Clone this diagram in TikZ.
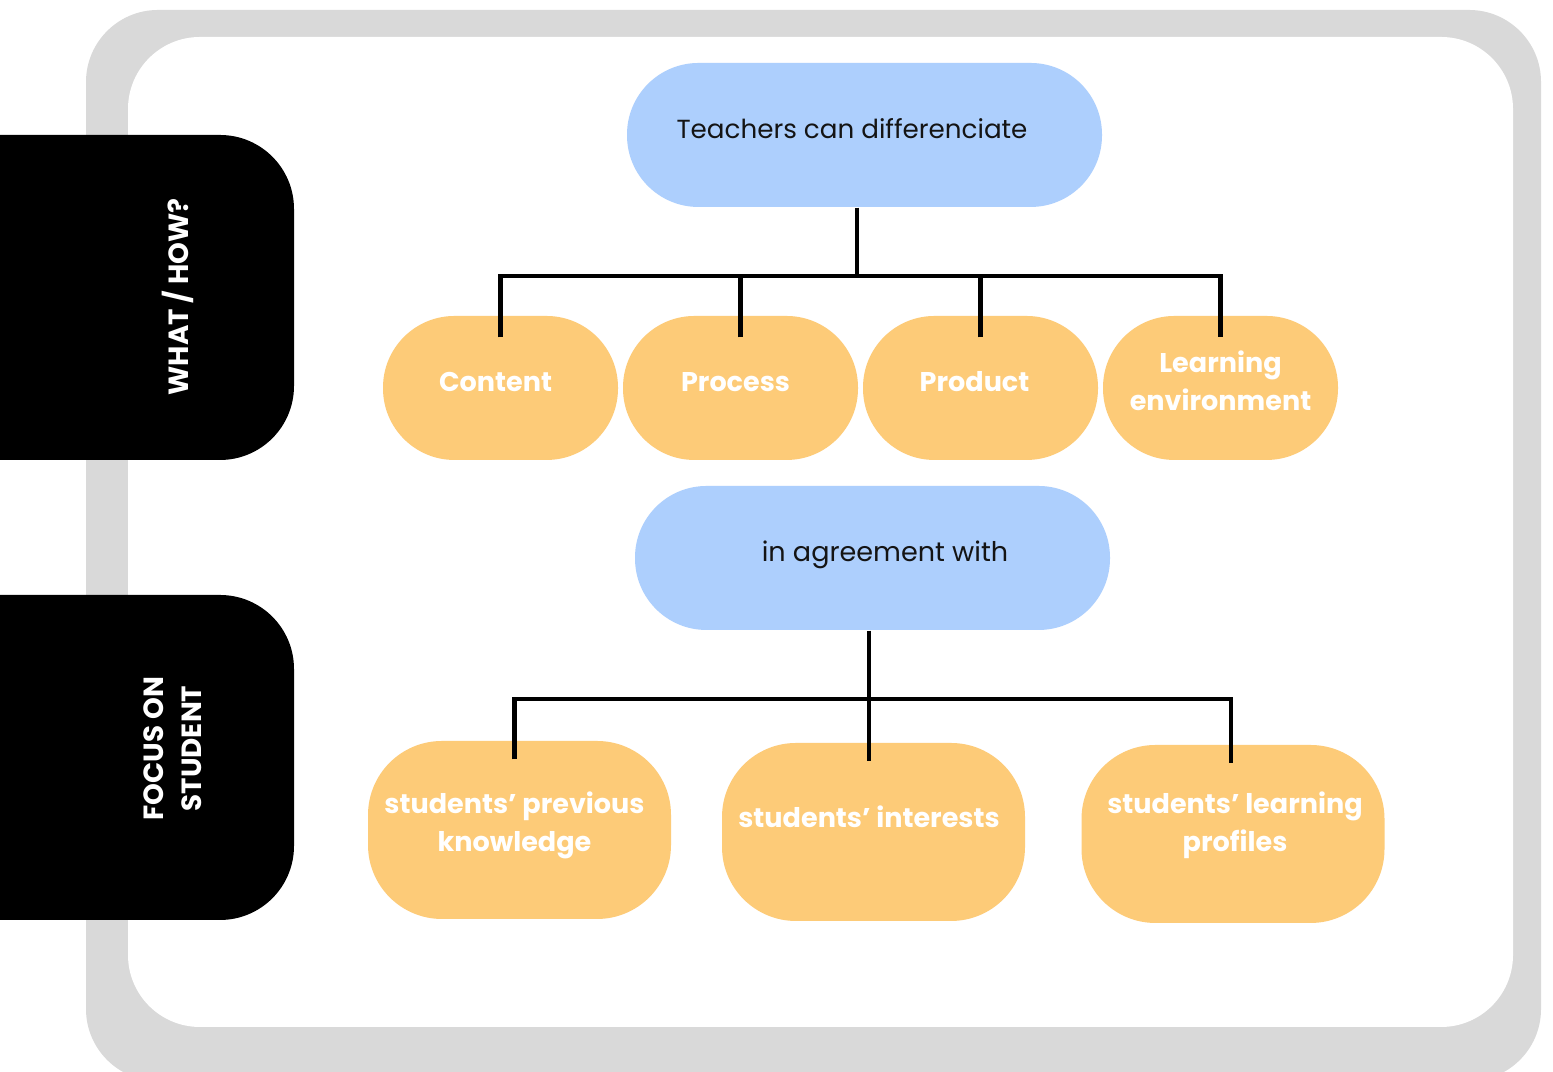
\documentclass[tikz,border=0pt]{standalone}
\usepackage{fontspec}
\setmainfont{Poppins}
\usepackage{xcolor}
\definecolor{skyblue}{HTML}{ADCFFD}
\definecolor{sand}{HTML}{FDCB78}
\definecolor{framegrey}{HTML}{D9D9D9}
\definecolor{ink}{HTML}{141414}
\usepackage{tikz}
\usetikzlibrary{positioning, calc}

\begin{document}
\begin{tikzpicture}[
  font=\fontsize{7.7}{10.8}\selectfont,
  bluebox/.style={rectangle, rounded corners=0.715cm, fill=skyblue,
                  minimum width=4.75cm, minimum height=1.44cm, inner sep=0pt},
  orangebox/.style={rectangle, rounded corners=0.715cm, fill=sand,
                  minimum width=2.35cm, minimum height=1.44cm, inner sep=0pt},
  widebox/.style={orangebox, rounded corners=0.74cm,
                  minimum width=3.03cm, minimum height=1.78cm},
  btext/.style={text=ink, inner sep=0pt},
  otext/.style={text=white, font=\fontsize{7.7}{10.8}\selectfont\bfseries,
                align=center, inner sep=0pt},
  tab/.style={rectangle, rounded corners=0.74cm, fill=black,
              minimum width=3.94cm, minimum height=3.25cm, inner sep=0pt},
  tabtext/.style={text=white, font=\fontsize{7.9}{10.8}\selectfont\bfseries,
                  align=center, rotate=90, inner sep=0pt},
  conn/.style={line width=1.2pt, black},
]
\useasboundingbox (0,0) rectangle (15.53,10.72);
\fill[white] (0,0) rectangle (15.53,10.72);

%% --- cadre ---
\fill[framegrey, rounded corners=0.72cm] (0.86,-0.09) rectangle (15.41,10.62);
\fill[white, rounded corners=0.72cm] (1.28,0.45) rectangle (15.13,10.35);

%% --- onglets ---
\node[tab] (tabwhat) at (0.97,7.745) {};
\node[tab] (tabfocus) at (0.97,3.145) {};
\node[tabtext] (whathow) at (1.78,7.75) {WHAT / HOW?};
\node[tabtext] (focus) at (1.73,3.235) {FOCUS ON\\STUDENT};

%% --- niveau 1 ---
\node[bluebox] (teach) at (8.645,9.37) {};
\node[btext, font=\fontsize{7.45}{10.8}\selectfont] (teachT)
  at ([xshift=-0.125cm, yshift=0.06cm]teach) {Teachers can differenciate};

\node[orangebox] (content) at (5.005,6.84) {};
\node[orangebox] (process) at (7.405,6.84) {};
\node[orangebox] (product) at (9.805,6.84) {};
\node[orangebox] (learn)   at (12.205,6.84) {};
\node[otext] (contentT) at ([xshift=-0.05cm, yshift=0.06cm]content) {Content};
\node[otext] (processT) at ([xshift=-0.05cm, yshift=0.06cm]process) {Process};
\node[otext] (productT) at ([xshift=-0.06cm, yshift=0.06cm]product) {Product};
\node[otext] (learnT)   at ([yshift=0.07cm]learn) {Learning\\environment};

%% --- niveau 2 ---
\node[bluebox] (agree) at (8.725,5.14) {};
\node[btext] (agreeT) at ([xshift=0.125cm, yshift=0.03cm]agree) {in agreement with};

\node[widebox] (prev)     at (5.195,2.42) {};
\node[widebox] (interest) at (8.735,2.40) {};
\node[widebox] (profile)  at (12.33,2.38) {};
\node[otext] (prevT)     at ([xshift=-0.05cm, yshift=0.05cm]prev) {students’ previous\\knowledge};
\node[otext] (interestT) at ([xshift=-0.045cm, yshift=0.15cm]interest) {students’ interests};
\node[otext] (profileT)  at ([xshift=0.02cm, yshift=0.09cm]profile) {students’ learning\\profiles};

%% --- liaisons ---
\coordinate (bustop) at ($(teach.south)+(-0.075,-0.68)$);
\draw[conn] ([xshift=-0.075cm]teach.south) -- (bustop);
\draw[conn] ([yshift=-0.22cm]content.north) |- (bustop -| learn.north)
            -- ([yshift=-0.22cm]learn.north);
\foreach \n in {process, product}
  \draw[conn] ([yshift=-0.22cm]\n.north) -- (bustop -| \n.north);

\coordinate (busbot) at ($(agree.south)+(-0.035,-0.68)$);
\draw[conn] ([xshift=-0.035cm]agree.south) -- (busbot);
\draw[conn] ([xshift=-0.05cm, yshift=-0.19cm]prev.north) |- ([xshift=-0.02cm]busbot -| profile.north)
            -- ([xshift=-0.02cm, yshift=-0.19cm]profile.north);
\draw[conn] (busbot) -- ([yshift=-0.19cm]busbot |- interest.north);
\end{tikzpicture}
\end{document}
